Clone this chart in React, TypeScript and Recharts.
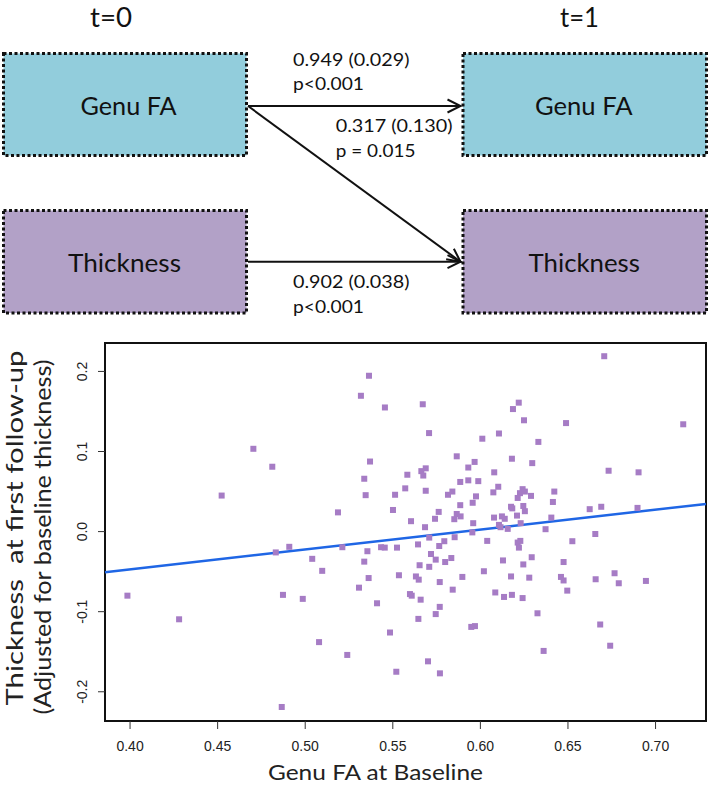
import React from 'react';
import { ScatterChart, Scatter, XAxis, YAxis, ReferenceArea, ReferenceLine } from 'recharts';

// Genu FA at baseline (x) and adjusted thickness at first follow-up (y)
const genuFA = [
  0.4704, 0.4812, 0.4523, 0.5364, 0.5318, 0.5455, 0.5671, 0.5707, 0.6011, 0.5865,
  0.5967, 0.5931, 0.537, 0.5583, 0.5663, 0.5688, 0.5674, 0.5337, 0.5885, 0.5931,
  0.5988, 0.5571, 0.5513, 0.5345, 0.5688, 0.5815, 0.584, 0.5975, 0.5956, 0.5885,
  0.5187, 0.5501, 0.5762, 0.5741, 0.5865, 0.5851, 0.5887, 0.5604, 0.5959, 0.5684,
  0.6707, 0.6219, 0.6186, 0.6249, 0.6489, 0.7158, 0.6106, 0.6331, 0.618, 0.6296,
  0.6079, 0.6732, 0.6903, 0.6102, 0.6074, 0.6241, 0.6226, 0.6254, 0.6289, 0.6213,
  0.6422, 0.6414, 0.6175, 0.6182, 0.6245, 0.6254, 0.6209, 0.6078, 0.6123, 0.6139,
  0.6405, 0.6624, 0.669, 0.6897, 0.6106, 0.6115, 0.6156, 0.623, 0.6372, 0.3985,
  0.428, 0.4909, 0.4832, 0.5212, 0.504, 0.5097, 0.5355, 0.5337, 0.5433, 0.5454,
  0.5524, 0.5644, 0.5708, 0.5794, 0.5765, 0.5853, 0.5954, 0.6039, 0.5718, 0.5745,
  0.5834, 0.5799, 0.5653, 0.5708, 0.5362, 0.5307, 0.5535, 0.5632, 0.5648, 0.5768,
  0.5897, 0.602, 0.5842, 0.4873, 0.4986, 0.5598, 0.5608, 0.5659, 0.541, 0.5768,
  0.5745, 0.5646, 0.5948, 0.5969, 0.5484, 0.5079, 0.524, 0.5701, 0.552, 0.5769,
  0.4866, 0.6213, 0.6228, 0.622, 0.6525, 0.6656, 0.6129, 0.6293, 0.6245, 0.6475,
  0.6175, 0.6279, 0.646, 0.6475, 0.6658, 0.6766, 0.679, 0.6945, 0.6496, 0.6085,
  0.6135, 0.618, 0.6241, 0.6326, 0.6684, 0.6741, 0.6361,
];
const thickness = [
  0.1034, 0.081, 0.045, 0.1946, 0.1696, 0.155, 0.159, 0.123, 0.116, 0.094,
  0.087, 0.08, 0.0875, 0.071, 0.0755, 0.079, 0.07, 0.066, 0.062, 0.064,
  0.063, 0.054, 0.046, 0.0455, 0.051, 0.046, 0.05, 0.044, 0.036, 0.033,
  0.024, 0.027, 0.0246, 0.016, 0.022, 0.0155, 0.019, 0.013, 0.0105, 0.0055,
  0.219, 0.161, 0.153, 0.139, 0.1355, 0.134, 0.1225, 0.112, 0.091, 0.0855,
  0.074, 0.076, 0.074, 0.056, 0.049, 0.053, 0.048, 0.05, 0.0446, 0.042,
  0.05, 0.037, 0.031, 0.029, 0.032, 0.0255, 0.02, 0.0175, 0.019, 0.016,
  0.0175, 0.028, 0.031, 0.0296, 0.0084, 0.0055, 0.0034, 0.0105, 0.003, -0.08,
  -0.1095, -0.019, -0.026, -0.0195, -0.034, -0.049, -0.0245, -0.0375, -0.0195, -0.02,
  -0.02, -0.016, -0.0075, -0.012, -0.018, -0.007, -0.001, -0.0116, -0.028, -0.035,
  -0.033, -0.038, -0.042, -0.044, -0.058, -0.07, -0.0545, -0.056, -0.06, -0.063,
  -0.0566, -0.0495, -0.0725, -0.079, -0.084, -0.078, -0.08, -0.085, -0.0895, -0.094,
  -0.103, -0.109, -0.119, -0.118, -0.126, -0.138, -0.154, -0.162, -0.175, -0.177,
  -0.219, -0.0137, -0.0116, -0.02, -0.012, -0.003, -0.036, -0.032, -0.041, -0.038,
  -0.056, -0.0575, -0.0566, -0.061, -0.0595, -0.052, -0.0645, -0.0616, -0.0737, -0.076,
  -0.0816, -0.079, -0.083, -0.102, -0.116, -0.1425, -0.149,
];
const xTicks = [0.4, 0.45, 0.5, 0.55, 0.6, 0.65, 0.7];
const yTicks = [-0.2, -0.1, 0.0, 0.1, 0.2];
const xDomain = [0.3857, 0.7288];
const yDomain = [-0.2365, 0.2355];
// fitted regression line end points
const fitX = [0.3857, 0.7288];
const fitY = [-0.0508, 0.0346];

// path diagram labels
const timeLabels = ['t=0', 't=1'];
const nodeLabels = ['Genu FA', 'Thickness'];
const pathCoefs = ['0.949 (0.029)', '0.317 (0.130)', '0.902 (0.038)'];
const pathPvals = ['p<0.001', 'p = 0.015', 'p<0.001'];

const points = genuFA.map((x, i) => ({ x, y: thickness[i] }));

const PT = '#a67cc5';
const LATO = 'Lato, "Noto Sans", sans-serif';
const ARIAL = '"Liberation Sans", Arial, sans-serif';

const T = (p: any) => (
  <text
    x={p.x}
    y={p.y}
    fontSize={p.size}
    fontFamily={LATO}
    fill="#111"
    textAnchor={p.anchor || 'start'}
    textLength={p.len}
    lengthAdjust="spacingAndGlyphs"
    style={{ whiteSpace: 'pre' }}
  >
    {p.children}
  </text>
);

function arrowHead(x1: number, y1: number, x2: number, y2: number) {
  const dx = x2 - x1;
  const dy = y2 - y1;
  const L = Math.sqrt(dx * dx + dy * dy);
  const ux = dx / L;
  const uy = dy / L;
  const bx = x2 - 13 * ux;
  const by = y2 - 13 * uy;
  const px = -uy * 6.5;
  const py = ux * 6.5;
  return `M${bx + px},${by + py} L${x2},${y2} L${bx - px},${by - py}`;
}

const Diagram = () => {
  const arrows = [
    [248, 106, 460.5, 106],
    [248, 106, 460.5, 261.7],
    [248, 261.7, 460.5, 261.7],
  ];
  return (
    <svg
      width={709}
      height={786}
      style={{ position: 'absolute', left: 0, top: 0, pointerEvents: 'none' }}
    >
      <rect x={3.5} y={53.5} width={243} height={102} fill="#92cddc" stroke="#111" strokeWidth={3} strokeDasharray="3 2.5" />
      <rect x={463} y={53.5} width={243.5} height={102} fill="#92cddc" stroke="#111" strokeWidth={3} strokeDasharray="3 2.5" />
      <rect x={3.5} y={210.5} width={243} height={102.5} fill="#b2a1c7" stroke="#111" strokeWidth={3} strokeDasharray="3 2.5" />
      <rect x={463} y={210.5} width={243.5} height={102.5} fill="#b2a1c7" stroke="#111" strokeWidth={3} strokeDasharray="3 2.5" />

      <T x={111} y={27} size={27} len={42} anchor="middle">{timeLabels[0]}</T>
      <T x={579.5} y={27} size={27} len={39} anchor="middle">{timeLabels[1]}</T>

      <T x={80.5} y={115} size={25.6} len={96}>{nodeLabels[0]}</T>
      <T x={535} y={115} size={25.6} len={97.5}>{nodeLabels[0]}</T>
      <T x={68} y={271.7} size={25.6} len={113}>{nodeLabels[1]}</T>
      <T x={528.5} y={271.7} size={25.6} len={111.5}>{nodeLabels[1]}</T>

      <T x={293} y={65.7} size={18} len={116.5}>{pathCoefs[0]}</T>
      <T x={293} y={90} size={18} len={71}>{pathPvals[0]}</T>
      <T x={335.7} y={132.3} size={18} len={116.8}>{pathCoefs[1]}</T>
      <T x={335.7} y={156.7} size={18} len={79.7}>{pathPvals[1]}</T>
      <T x={293} y={288.3} size={18} len={116.5}>{pathCoefs[2]}</T>
      <T x={293} y={313.3} size={18} len={71}>{pathPvals[2]}</T>

      {arrows.map((a, i) => (
        <g key={i}>
          <line x1={a[0]} y1={a[1]} x2={a[2]} y2={a[3]} stroke="#111" strokeWidth={2} />
          <path d={arrowHead(a[0], a[1], a[2], a[3])} stroke="#111" strokeWidth={2} fill="none" />
        </g>
      ))}

      <text
        x={23}
        y={528}
        transform="rotate(-90 23 528)"
        textAnchor="middle"
        fontSize={23}
        fontFamily={LATO}
        fill="#222"
        textLength={355}
        lengthAdjust="spacingAndGlyphs"
        style={{ whiteSpace: 'pre' }}
      >
        {'Thickness  at first follow-up'}
      </text>
      <text
        x={51}
        y={537}
        transform="rotate(-90 51 537)"
        textAnchor="middle"
        fontSize={23}
        fontFamily={LATO}
        fill="#222"
        textLength={355}
        lengthAdjust="spacingAndGlyphs"
      >
        (Adjusted for baseline thickness)
      </text>
      <text
        x={268}
        y={780}
        fontSize={22}
        fontFamily={LATO}
        fill="#222"
        textLength={215}
        lengthAdjust="spacingAndGlyphs"
      >
        Genu FA at Baseline
      </text>
    </svg>
  );
};

const XTick = (p: any) => (
  <text x={p.x} y={751} textAnchor="middle" fontSize={14} fontFamily={ARIAL} fill="#222">
    {Number(p.payload.value).toFixed(2)}
  </text>
);

const YTick = (p: any) => (
  <text
    x={87}
    y={p.y}
    transform={`rotate(-90 87 ${p.y})`}
    textAnchor="middle"
    fontSize={14}
    fontFamily={ARIAL}
    fill="#222"
  >
    {Number(p.payload.value).toFixed(1)}
  </text>
);

export default function App() {
  return (
    <div style={{ position: 'absolute', left: 0, top: 0, width: 709, height: 786, background: '#fff' }}>
      <Diagram />
      <div style={{ position: 'absolute', left: 0, top: 0 }}>
        <ScatterChart width={709} height={786} margin={{ top: 343, right: 3, bottom: 0, left: 0 }}>
          <XAxis
            type="number"
            dataKey="x"
            domain={xDomain}
            ticks={xTicks}
            interval={0}
            allowDataOverflow
            height={65}
            axisLine={false}
            tickLine={{ stroke: '#333', strokeWidth: 1 }}
            tickSize={8}
            tick={XTick}
          />
          <YAxis
            type="number"
            dataKey="y"
            domain={yDomain}
            ticks={yTicks}
            interval={0}
            allowDataOverflow
            width={105}
            axisLine={false}
            tickLine={{ stroke: '#333', strokeWidth: 1 }}
            tickSize={7}
            tick={YTick}
          />
          <Scatter
            data={points}
            isAnimationActive={false}
            shape={(p: any) => (
              <rect x={p.cx - 3} y={p.cy - 3} width={6} height={6} fill={PT} />
            )}
          />
          <ReferenceLine
            segment={[
              { x: fitX[0], y: fitY[0] },
              { x: fitX[1], y: fitY[1] },
            ]}
            stroke="#1f66e5"
            strokeWidth={2.5}
            ifOverflow="visible"
          />
          <ReferenceArea
            x1={xDomain[0]}
            x2={xDomain[1]}
            y1={yDomain[0]}
            y2={yDomain[1]}
            fill="none"
            fillOpacity={0}
            stroke="#111"
            strokeWidth={2}
            ifOverflow="visible"
          />
        </ScatterChart>
      </div>
    </div>
  );
}
